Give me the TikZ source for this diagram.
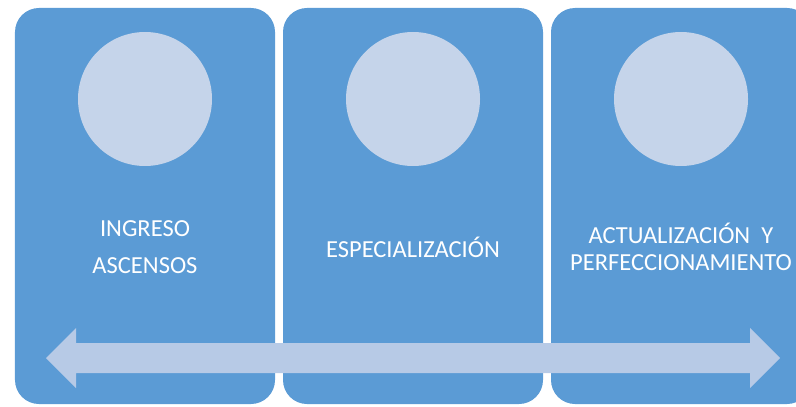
\documentclass[tikz,border=0pt]{standalone}
\usepackage{fontspec}
\setmainfont{Carlito}
\usetikzlibrary{positioning}
\definecolor{stageblue}{HTML}{5B9BD5}
\definecolor{discblue}{HTML}{C5D4EA}
\definecolor{arrowblue}{HTML}{B7CAE6}
\tikzset{%
  stage/.style={fill=stageblue, rounded corners=24bp, minimum width=260bp, minimum height=396bp, inner sep=0pt, outer sep=0pt},
  disc/.style={circle, fill=discblue, minimum size=134bp, inner sep=0pt, outer sep=0pt},
  caption/.style={text=white, align=center, inner sep=0pt, font=\fontsize{24.5bp}{27bp}\selectfont},
}
\begin{document}
\begin{tikzpicture}[x=1bp,y=1bp]
  \useasboundingbox (0,0) rectangle (796,406);
  \node[stage] (s0) at (145,200) {};
  \node[stage,right=8bp of s0] (s1) {};
  \node[stage,right=8bp of s1] (s2) {};

  \node[disc,below=24bp of s0.north] (d0) {};
  \node[disc,below=24bp of s1.north] (d1) {};
  \node[disc,below=24bp of s2.north] (d2) {};

  \node[caption,yshift=-41bp] (t0) at (s0) {INGRESO\\[10bp]ASCENSOS};
  \node[caption,yshift=-41bp] (t1) at (s1) {ESPECIALIZACIÓN};
  \node[caption,yshift=-41bp] (t2) at (s2) {ACTUALIZACIÓN\ \ Y\\PERFECCIONAMIENTO};

  \fill[arrowblue] (46,48) -- (76,78) -- (76,63) -- (750,63) -- (750,78) -- (780,48)
    -- (750,18) -- (750,33) -- (76,33) -- (76,18) -- cycle;
\end{tikzpicture}
\end{document}
